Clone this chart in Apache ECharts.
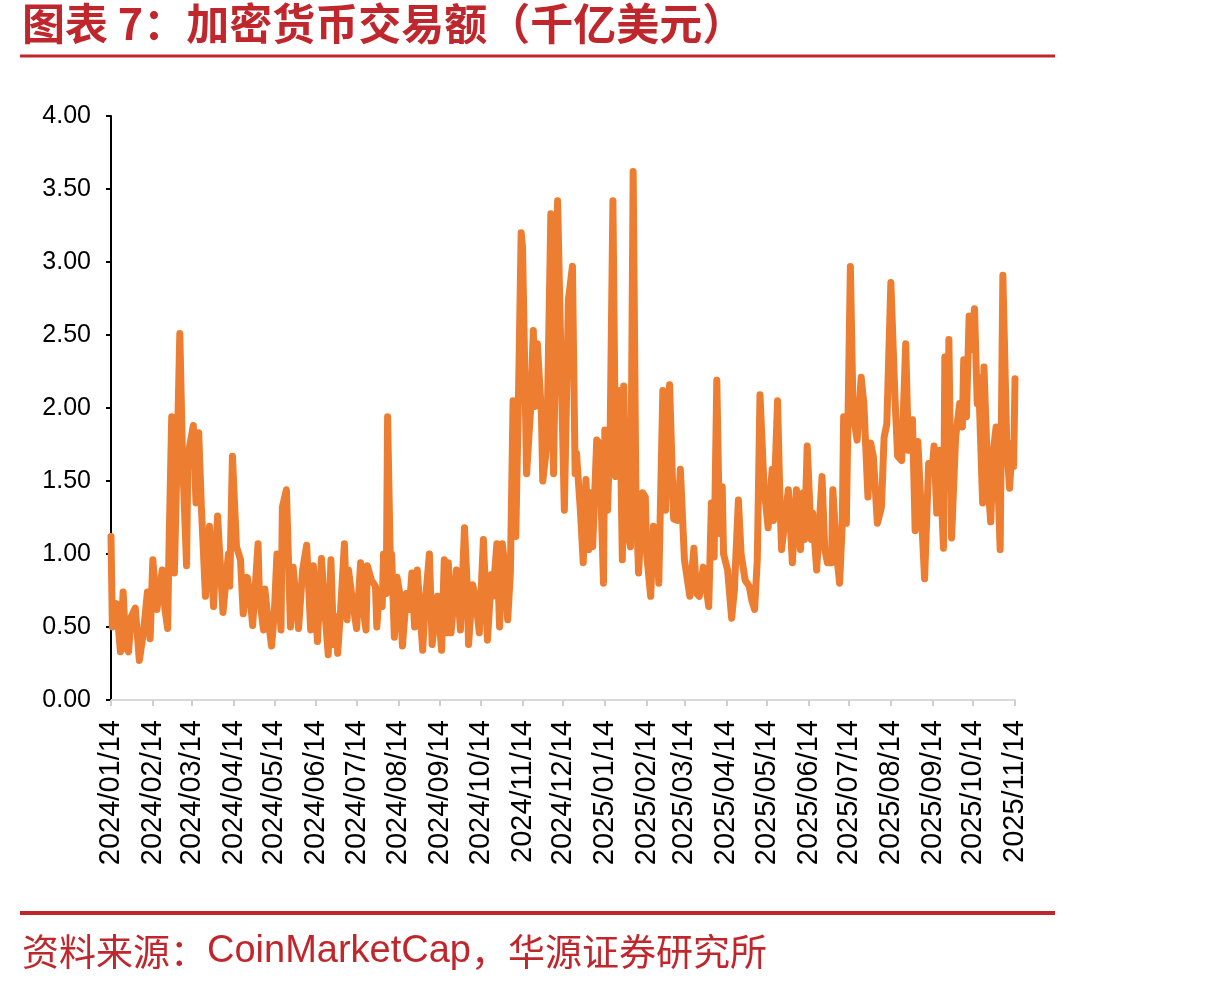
<!DOCTYPE html>
<html><head><meta charset="utf-8">
<script src="https://cdn.jsdelivr.net/npm/echarts@6/dist/echarts.min.js"></script>
<style>html,body{margin:0;padding:0;background:#fff;}#chart{width:1210px;height:986px;}</style>
</head><body><div id="chart"></div>
<script>
// Day offsets counted from 2024/01/14
const START = [2024, 0, 14];
const dayOffsets = [
  0,1,4,7,9,11,13,15,18,21,
  24,27,29,31,34,38,40,42,43,45,
  47,49,51,53,56,57,61,63,65,67,
  70,73,76,79,83,87,88,90,93,96,
  98,101,103,105,109,110,113,114,116,119,
  121,123,126,127,130,133,135,139,142,145,
  148,150,153,156,159,161,163,165,167,168,
  170,173,175,176,179,182,185,187,189,190,
  193,196,197,199,201,202,204,205,207,208,
  210,212,214,216,219,221,223,225,227,231,
  233,236,238,242,245,247,249,250,252,256,
  259,262,264,265,268,270,273,276,279,282,
  283,286,288,290,292,294,296,298,300,302,
  304,305,307,308,311,313,314,316,319,320,
  323,326,328,331,334,336,339,342,344,345,
  348,350,352,354,355,357,360,362,365,366,
  368,370,372,374,377,379,380,382,385,387,
  389,391,394,396,397,400,402,405,406,409,
  411,414,417,420,422,425,429,432,434,436,
  439,443,445,447,449,451,453,454,457,460,
  462,465,467,470,473,475,477,479,481,484,
  487,490,491,494,496,497,502,505,508,511,
  513,514,516,519,520,523,527,529,531,534,
  535,538,540,542,543,545,548,550,553,556,
  558,561,563,565,568,571,573,575,578,581,
  583,586,589,591,594,596,598,603,606,609,
  610,612,614,617,618,620,621,623,626,629,
  631,632,634,636,638,640,642,643,646,647,
  650,652,654,656,659,661,664,666,668,669,
  670
];
const values = [
  1.12,0.50,0.66,0.33,0.74,0.36,0.33,0.57,0.63,0.27,
  0.46,0.74,0.42,0.96,0.62,0.89,0.62,0.49,1.05,1.94,
  0.87,1.67,2.51,1.67,0.92,1.67,1.88,1.35,1.83,1.32,
  0.71,1.19,0.64,1.26,0.60,1.00,0.78,1.67,1.05,0.96,
  0.59,0.84,0.71,0.51,1.07,0.71,0.48,0.76,0.59,0.37,
  0.59,1.00,0.48,1.32,1.44,0.50,0.91,0.49,0.89,1.06,
  0.48,0.92,0.40,0.97,0.55,0.31,0.96,0.38,0.57,0.32,
  0.59,1.07,0.55,0.89,0.68,0.49,0.94,0.62,0.48,0.92,
  0.82,0.78,0.50,0.75,0.64,1.00,0.73,1.94,0.96,1.00,
  0.43,0.84,0.73,0.37,0.73,0.62,0.87,0.50,0.89,0.34,
  0.68,1.00,0.38,0.71,0.34,0.96,0.46,0.94,0.46,0.89,
  0.48,1.18,0.78,0.38,0.79,0.71,0.46,1.10,0.41,0.86,
  0.71,1.07,0.50,1.07,0.91,0.55,0.87,2.05,1.12,2.08,
  3.20,3.10,2.10,1.55,1.99,2.53,2.01,2.44,1.96,1.50,
  1.74,3.33,1.55,3.42,2.12,1.30,2.74,2.97,1.55,1.69,
  1.28,0.94,1.51,1.03,1.42,1.05,1.78,1.76,0.80,1.85,
  1.30,1.87,3.42,1.53,2.12,0.96,2.15,1.19,1.05,3.62,
  1.44,0.87,1.42,1.39,1.00,0.71,1.19,1.03,0.80,2.12,
  1.30,2.16,1.24,1.23,1.58,0.96,0.71,1.04,0.73,0.71,
  0.91,0.64,1.35,0.98,2.19,1.14,1.46,1.00,0.89,0.56,
  0.75,1.37,1.00,0.82,0.78,0.68,0.62,0.96,2.09,1.46,
  1.18,1.58,1.23,2.05,1.30,1.03,1.44,0.94,1.44,1.03,
  1.42,1.10,1.74,1.10,1.28,0.89,1.53,1.03,0.94,0.94,
  1.44,0.98,0.80,1.21,1.94,1.21,2.97,1.96,1.78,2.21,
  2.03,1.39,1.76,1.67,1.21,1.32,1.80,1.89,2.86,2.08,
  1.67,1.64,2.44,1.71,1.92,1.16,1.77,0.83,1.62,1.62,
  1.74,1.28,1.71,1.04,2.35,1.58,2.47,1.11,1.80,2.03,
  1.87,2.33,1.94,2.63,2.40,2.68,2.03,2.21,1.35,2.28,
  1.48,1.22,1.71,1.87,1.03,2.91,1.71,1.45,1.76,1.60,
  2.20
];
const tickLabels = [
  '2024/01/14','2024/02/14','2024/03/14','2024/04/14','2024/05/14','2024/06/14',
  '2024/07/14','2024/08/14','2024/09/14','2024/10/14','2024/11/14','2024/12/14',
  '2025/01/14','2025/02/14','2025/03/14','2025/04/14','2025/05/14','2025/06/14',
  '2025/07/14','2025/08/14','2025/09/14','2025/10/14','2025/11/14'
];
const titleText = '图表 7：加密货币交易额（千亿美元）';
const sourceText = '{a|资料来源：}{b|CoinMarketCap}{a|，华源证券研究所}';

const DAY = 86400000;
const startUTC = Date.UTC(START[0], START[1], START[2]);
function labelToDay(s){ const p = s.split('/'); return Math.round((Date.UTC(+p[0], +p[1]-1, +p[2]) - startUTC) / DAY); }
const tickDays = tickLabels.map(labelToDay);
const seriesData = dayOffsets.map((d,i)=>[d, values[i]]);
function fmt(v){
  const idx = tickDays.indexOf(Math.round(v));
  return idx >= 0 ? tickLabels[idx] : '';
}
const RED = '#c0272d';
const chart = echarts.init(document.getElementById('chart'));
chart.setOption({
  animation:false,
  backgroundColor:'#fff',
  grid:{left:111, right:195, top:116, bottom:286, containLabel:false},
  xAxis:{
    type:'value', min:tickDays[0], max:tickDays[tickDays.length-1],
    axisLine:{show:true, lineStyle:{color:'#d9d9d9', width:2}},
    axisTick:{show:true, customValues:tickDays, length:6, lineStyle:{color:'#cfcfcf', width:2}},
    axisLabel:{customValues:tickDays, rotate:90, margin:20, color:'#000', fontSize:29,
      fontFamily:'"Liberation Sans", Arial, sans-serif', formatter: fmt, hideOverlap:false,
      showMinLabel:true, showMaxLabel:true},
    splitLine:{show:false}
  },
  yAxis:{
    type:'value', min:0, max:4, interval:0.5,
    axisLine:{show:true, lineStyle:{color:'#000', width:2}},
    axisTick:{show:true, length:5, lineStyle:{color:'#000', width:2}},
    axisLabel:{formatter: v=>v.toFixed(2), fontSize:25, fontFamily:'"Liberation Sans", Arial', color:'#000', margin:20},
    splitLine:{show:false}
  },
  series:[{
    type:'line', data:seriesData, showSymbol:false, symbol:'none',
    lineStyle:{color:'#ED7D31', width:7, join:'round', cap:'round'},
    itemStyle:{color:'#ED7D31'}
  }],
  graphic:[
    {type:'text', left:22, top:2, style:{text:titleText, font:'bold 43px "Noto Sans CJK SC"', fill:RED}},
    {type:'line', shape:{x1:20,y1:56,x2:1055,y2:56}, style:{stroke:RED, lineWidth:3}},
    {type:'line', shape:{x1:20,y1:913,x2:1055,y2:913}, style:{stroke:RED, lineWidth:4}},
    {type:'text', left:22, top:933, style:{text:sourceText, rich:{
      a:{fontSize:37, fontFamily:'"Noto Sans CJK SC"', fill:RED, color:RED},
      b:{fontSize:38, fontFamily:'"Liberation Sans", Arial', fill:RED, color:RED}
    }}}
  ]
});
</script></body></html>
